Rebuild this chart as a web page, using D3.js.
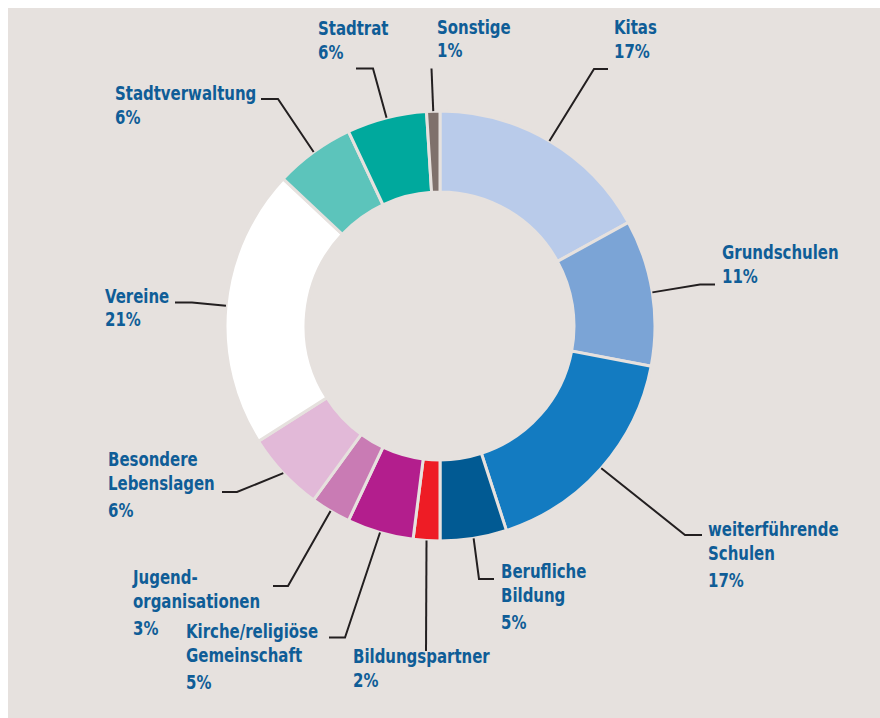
<!DOCTYPE html>
<html>
<head>
<meta charset="utf-8">
<script src="https://cdn.jsdelivr.net/npm/d3@7"></script>
<style>
  body { margin: 0; background: #fff; }
  text { font-family: "DejaVu Sans Condensed", "DejaVu Sans", sans-serif; font-weight: bold; }
</style>
</head>
<body>
<div id="chartContainer"></div>
<script>
// Data (percent, clockwise from the top)
const categories = ["Kitas", "Grundschulen", "weiterführende\nSchulen", "Berufliche\nBildung", "Bildungspartner",
                    "Kirche/religiöse\nGemeinschaft", "Jugend-\norganisationen", "Besondere\nLebenslagen",
                    "Vereine", "Stadtverwaltung", "Stadtrat", "Sonstige"];
const values = [17, 11, 17, 5, 2, 5, 3, 6, 21, 6, 6, 1];
const percentLabels = ["17%", "11%", "17%", "5%", "2%", "5%", "3%", "6%", "21%", "6%", "6%", "1%"];
const colors = ["#b9cbea", "#7ba4d6", "#137bc1", "#015a93", "#ee1c25", "#b31e8d",
                "#c97bb4", "#e2b9d8", "#ffffff", "#5cc4bb", "#00a99d", "#7f716c"];

// Label placement: text left x, first baseline y, leader elbow and end
const labelLayout = [
  { x: 614, y: 34,  elbow: [594, 69],  end: [608, 69] },
  { x: 722, y: 259, elbow: [700, 284.5], end: [715, 284.5] },
  { x: 708, y: 536, elbow: [685, 535], end: [702, 535] },
  { x: 501, y: 578, elbow: [479, 579], end: [494, 579] },
  { x: 353, y: 663, elbow: null,       end: [426, 651] },
  { x: 186, y: 638, elbow: [345, 637.5], end: [329, 637.5] },
  { x: 133, y: 584, elbow: [288, 586], end: [273, 586] },
  { x: 108, y: 466, elbow: [237, 492], end: [222, 492] },
  { x: 105, y: 302.5, elbow: [192, 302.5], end: [175, 302.5] },
  { x: 115, y: 100, elbow: [278, 99],  end: [261, 99] },
  { x: 318, y: 35,  elbow: [373, 68.5], end: [356, 68.5] },
  { x: 437, y: 33.5, elbow: null,      end: [431.5, 68.5] }
];

const svgWidth = 880;
const svgHeight = 718;
const cx = 440, cy = 326;
const outerR = 215, innerR = 134;
const bg = "#e6e1de";
const textColor = "#0f5d97";
const squeeze = 0.875; // the original type is a condensed face

const svg = d3.select("#chartContainer")
              .append("svg")
              .attr("width", svgWidth)
              .attr("height", svgHeight);

// grey panel
svg.append("rect")
   .attr("x", 8)
   .attr("y", 8)
   .attr("width", svgWidth - 8)
   .attr("height", svgHeight - 8)
   .attr("fill", bg);

const pie = d3.pie().sort(null).value(d => d)(values);

const arc = d3.arc().innerRadius(innerR).outerRadius(outerR);
const edgeArc = d3.arc().innerRadius(outerR).outerRadius(outerR);

const g = svg.append("g").attr("transform", `translate(${cx},${cy})`);

g.selectAll("path.slice")
 .data(pie)
 .enter()
 .append("path")
 .attr("class", "slice")
 .attr("d", arc)
 .attr("fill", (d, i) => colors[i])
 .attr("stroke", bg)
 .attr("stroke-width", 3);

// leader lines
svg.selectAll("path.leader")
   .data(pie)
   .enter()
   .append("path")
   .attr("class", "leader")
   .attr("d", (d, i) => {
       const a = edgeArc.centroid(d);
       const pts = [[a[0] + cx, a[1] + cy]];
       const L = labelLayout[i];
       if (L.elbow) pts.push(L.elbow);
       pts.push(L.end);
       return d3.line()(pts);
   })
   .attr("fill", "none")
   .attr("stroke", "#231f20")
   .attr("stroke-width", 2);

// labels
categories.forEach((name, i) => {
    const L = labelLayout[i];
    const lines = name.split("\n");
    const t = svg.append("g")
                 .attr("transform", `translate(${L.x},${L.y}) scale(${squeeze},1)`)
                 .append("text")
                 .style("font-size", "19px")
                 .attr("fill", textColor);
    lines.forEach((ln, k) => {
        t.append("tspan")
         .attr("x", 0)
         .attr("y", k * 24)
         .text(ln);
    });
    t.append("tspan")
     .attr("x", 0)
     .attr("y", lines.length * 24 + (lines.length > 1 ? 3 : 0))
     .text(percentLabels[i]);
});
</script>
</body>
</html>
